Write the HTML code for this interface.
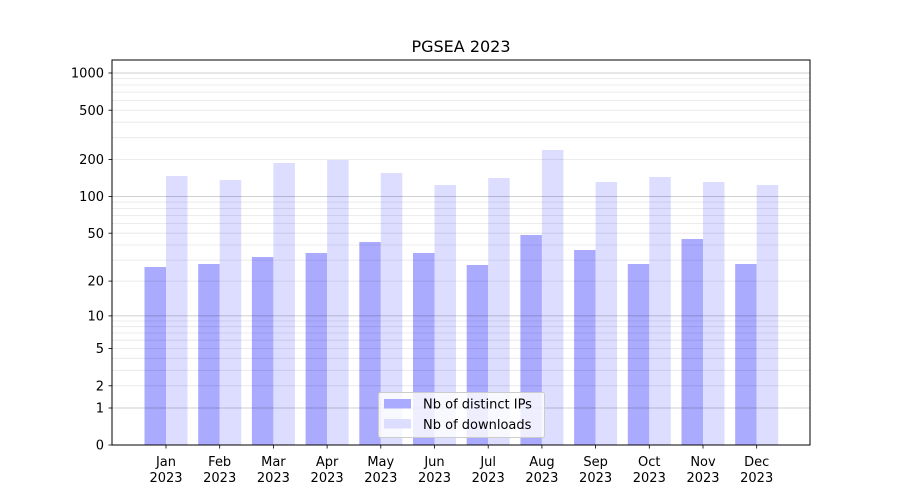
<!DOCTYPE html>
<html><head><meta charset="utf-8"><style>body{margin:0;background:#fff}svg{display:block;font-family:"DejaVu Sans","Liberation Sans",sans-serif}</style></head><body>
<svg width="900" height="500" xmlns="http://www.w3.org/2000/svg">
<rect width="900" height="500" fill="#fff"/>
<g fill="#aaaaff">
<rect x="144.5" y="267" width="21.5" height="178"/>
<rect x="198.2" y="264" width="21.5" height="181"/>
<rect x="251.9" y="257" width="21.5" height="188"/>
<rect x="305.6" y="253" width="21.5" height="192"/>
<rect x="359.3" y="242" width="21.5" height="203"/>
<rect x="413" y="253" width="21.5" height="192"/>
<rect x="466.7" y="265" width="21.5" height="180"/>
<rect x="520.4" y="235" width="21.5" height="210"/>
<rect x="574.1" y="250" width="21.5" height="195"/>
<rect x="627.8" y="264" width="21.5" height="181"/>
<rect x="681.5" y="239" width="21.5" height="206"/>
<rect x="735.2" y="264" width="21.5" height="181"/>
</g>
<g fill="#ddddff">
<rect x="166" y="176" width="21.5" height="269"/>
<rect x="219.7" y="180" width="21.5" height="265"/>
<rect x="273.4" y="163" width="21.5" height="282"/>
<rect x="327.1" y="160" width="21.5" height="285"/>
<rect x="380.8" y="173" width="21.5" height="272"/>
<rect x="434.5" y="185" width="21.5" height="260"/>
<rect x="488.2" y="178" width="21.5" height="267"/>
<rect x="541.9" y="150" width="21.5" height="295"/>
<rect x="595.6" y="182" width="21.5" height="263"/>
<rect x="649.3" y="177" width="21.5" height="268"/>
<rect x="703" y="182" width="21.5" height="263"/>
<rect x="756.7" y="185" width="21.5" height="260"/>
</g>
<g stroke="#000" stroke-opacity="0.1" stroke-width="0.8">
<line x1="112" x2="810" y1="385.8" y2="385.8"/><line x1="112" x2="810" y1="370.3" y2="370.3"/><line x1="112" x2="810" y1="358.3" y2="358.3"/><line x1="112" x2="810" y1="348.5" y2="348.5"/><line x1="112" x2="810" y1="340.2" y2="340.2"/><line x1="112" x2="810" y1="333" y2="333"/><line x1="112" x2="810" y1="326.7" y2="326.7"/><line x1="112" x2="810" y1="321" y2="321"/>
<line x1="112" x2="810" y1="281.1" y2="281.1"/><line x1="112" x2="810" y1="260.1" y2="260.1"/><line x1="112" x2="810" y1="245" y2="245"/><line x1="112" x2="810" y1="233.2" y2="233.2"/><line x1="112" x2="810" y1="223.6" y2="223.6"/><line x1="112" x2="810" y1="215.5" y2="215.5"/><line x1="112" x2="810" y1="208.4" y2="208.4"/><line x1="112" x2="810" y1="202.1" y2="202.1"/>
<line x1="112" x2="810" y1="159.4" y2="159.4"/><line x1="112" x2="810" y1="137.7" y2="137.7"/><line x1="112" x2="810" y1="122.2" y2="122.2"/><line x1="112" x2="810" y1="110.2" y2="110.2"/><line x1="112" x2="810" y1="100.4" y2="100.4"/><line x1="112" x2="810" y1="92.1" y2="92.1"/><line x1="112" x2="810" y1="85" y2="85"/><line x1="112" x2="810" y1="78.6" y2="78.6"/>
</g>
<g stroke="#000" stroke-opacity="0.25" stroke-width="0.8">
<line x1="112" x2="810" y1="408" y2="408"/><line x1="112" x2="810" y1="315.9" y2="315.9"/><line x1="112" x2="810" y1="196.5" y2="196.5"/><line x1="112" x2="810" y1="73" y2="73"/>
</g>
<rect x="112" y="60" width="698" height="385" fill="none" stroke="#000" stroke-width="1"/>
<g stroke="#000" stroke-width="0.8">
<line x1="108.5" x2="112" y1="445" y2="445"/><line x1="108.5" x2="112" y1="408" y2="408"/><line x1="108.5" x2="112" y1="385.8" y2="385.8"/><line x1="108.5" x2="112" y1="348.5" y2="348.5"/><line x1="108.5" x2="112" y1="315.9" y2="315.9"/><line x1="108.5" x2="112" y1="281.1" y2="281.1"/><line x1="108.5" x2="112" y1="233.2" y2="233.2"/><line x1="108.5" x2="112" y1="196.5" y2="196.5"/><line x1="108.5" x2="112" y1="159.4" y2="159.4"/><line x1="108.5" x2="112" y1="110.2" y2="110.2"/><line x1="108.5" x2="112" y1="73" y2="73"/>
<line x1="166" x2="166" y1="445" y2="448.5"/><line x1="219.7" x2="219.7" y1="445" y2="448.5"/><line x1="273.4" x2="273.4" y1="445" y2="448.5"/><line x1="327.1" x2="327.1" y1="445" y2="448.5"/><line x1="380.8" x2="380.8" y1="445" y2="448.5"/><line x1="434.5" x2="434.5" y1="445" y2="448.5"/><line x1="488.2" x2="488.2" y1="445" y2="448.5"/><line x1="541.9" x2="541.9" y1="445" y2="448.5"/><line x1="595.6" x2="595.6" y1="445" y2="448.5"/><line x1="649.3" x2="649.3" y1="445" y2="448.5"/><line x1="703" x2="703" y1="445" y2="448.5"/><line x1="756.7" x2="756.7" y1="445" y2="448.5"/>
</g>
<g font-size="13" text-anchor="end" fill="#000">
<text x="104" y="449.5">0</text><text x="104" y="412.5">1</text><text x="104" y="390.5">2</text><text x="104" y="353">5</text><text x="104" y="320.5">10</text><text x="104" y="285.5">20</text><text x="104" y="238">50</text><text x="104" y="201">100</text><text x="104" y="164">200</text><text x="104" y="115">500</text><text x="104" y="77.5">1000</text>
</g>
<g font-size="13" text-anchor="middle" fill="#000">
<text x="166" y="466">Jan</text><text x="166" y="482">2023</text>
<text x="219.7" y="466">Feb</text><text x="219.7" y="482">2023</text>
<text x="273.4" y="466">Mar</text><text x="273.4" y="482">2023</text>
<text x="327.1" y="466">Apr</text><text x="327.1" y="482">2023</text>
<text x="380.8" y="466">May</text><text x="380.8" y="482">2023</text>
<text x="434.5" y="466">Jun</text><text x="434.5" y="482">2023</text>
<text x="488.2" y="466">Jul</text><text x="488.2" y="482">2023</text>
<text x="541.9" y="466">Aug</text><text x="541.9" y="482">2023</text>
<text x="595.6" y="466">Sep</text><text x="595.6" y="482">2023</text>
<text x="649.3" y="466">Oct</text><text x="649.3" y="482">2023</text>
<text x="703" y="466">Nov</text><text x="703" y="482">2023</text>
<text x="756.7" y="466">Dec</text><text x="756.7" y="482">2023</text>
<text x="461" y="52" font-size="16">PGSEA 2023</text>
</g>
<rect x="378.5" y="392.5" width="166" height="45" rx="2" fill="#fff" fill-opacity="0.8" stroke="#ccc" stroke-width="1"/>
<rect x="384" y="399" width="27" height="9.5" fill="#aaaaff"/>
<rect x="384" y="419" width="27" height="9.5" fill="#ddddff"/>
<text x="423" y="408.5" font-size="13">Nb of distinct IPs</text>
<text x="423" y="429" font-size="13">Nb of downloads</text>
</svg>
</body></html>
